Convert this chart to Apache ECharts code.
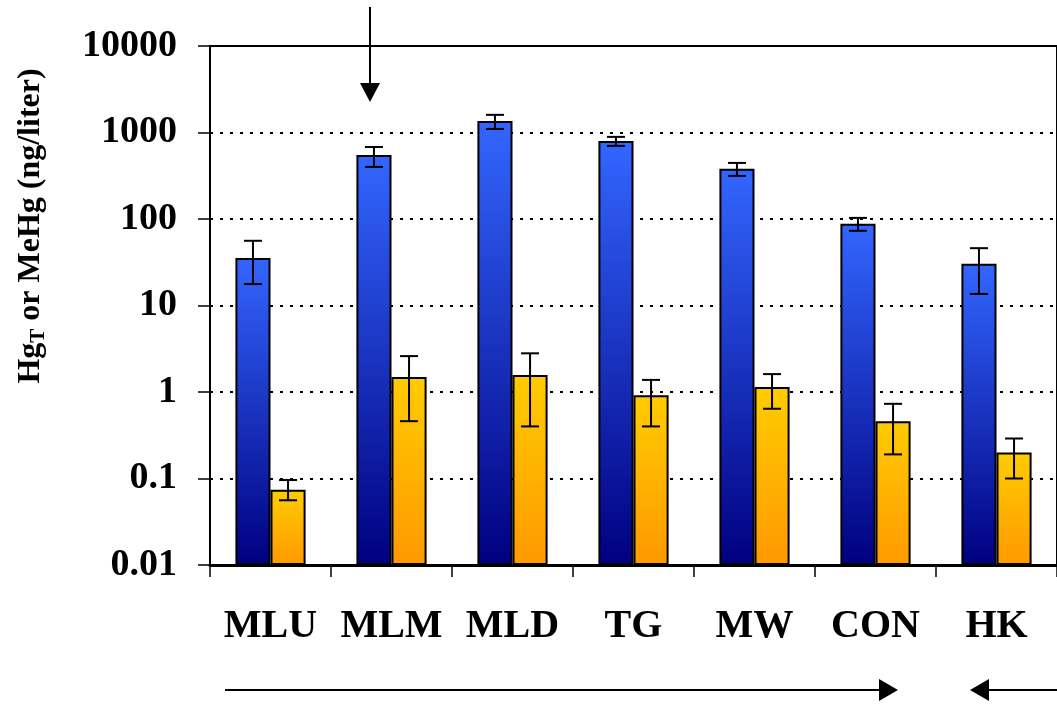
<!DOCTYPE html>
<html>
<head>
<meta charset="utf-8">
<script src="https://cdn.jsdelivr.net/npm/echarts@6/dist/echarts.min.js"></script>
<style>html,body{margin:0;padding:0;background:#fff;}#c{width:1057px;height:705px;}</style>
</head>
<body>
<div id="c"></div>
<script>
var categories = ['MLU', 'MLM', 'MLD', 'TG', 'MW', 'CON', 'HK'];
var hgT      = [35.5, 550, 1360, 800, 380, 88, 30.3];
var hgTLow   = [17.7, 400, 1100, 700, 315, 73, 13.6];
var hgTHigh  = [56, 680, 1600, 890, 445, 103, 46];
var meHg     = [0.074, 1.49, 1.57, 0.92, 1.14, 0.46, 0.20];
var meHgLow  = [0.056, 0.46, 0.40, 0.40, 0.64, 0.19, 0.10];
var meHgHigh = [0.096, 2.6, 2.8, 1.38, 1.61, 0.73, 0.29];
var yTickLabels = ['0.01', '0.1', '1', '10', '100', '1000', '10000'];

var FONT = '"Liberation Serif", "Times New Roman", serif';
var CAT_GAP = 0.42;

var chart = echarts.init(document.getElementById('c'), null, {renderer: 'canvas'});

function errSeries(low, high, sign) {
  return {
    type: 'custom',
    z: 10,
    silent: true,
    encode: {x: 0, y: [1, 2]},
    data: categories.map(function (c, i) { return [i, low[i], high[i]]; }),
    renderItem: function (params, api) {
      var i = api.value(0);
      var lo = api.coord([i, api.value(1)]);
      var hi = api.coord([i, api.value(2)]);
      var band = api.size([1, 1])[0];
      var barW = band * (1 - CAT_GAP) / 2;
      var cx = lo[0] + sign * barW / 2;
      var cap = 9;
      var st = {stroke: '#000', lineWidth: 2};
      return {
        type: 'group',
        children: [
          {type: 'line', shape: {x1: cx, y1: lo[1], x2: cx, y2: hi[1]}, style: st},
          {type: 'line', shape: {x1: cx - cap, y1: lo[1], x2: cx + cap, y2: lo[1]}, style: st},
          {type: 'line', shape: {x1: cx - cap, y1: hi[1], x2: cx + cap, y2: hi[1]}, style: st}
        ]
      };
    }
  };
}

function grad(top, bottom) {
  return new echarts.graphic.LinearGradient(0, 0, 0, 1, [
    {offset: 0, color: top}, {offset: 1, color: bottom}
  ]);
}

var option = {
  backgroundColor: '#fff',
  animation: false,
  grid: {left: 210, right: 0, top: 46, bottom: 140, show: true, borderColor: '#000', borderWidth: 2, containLabel: false},
  xAxis: {
    type: 'category',
    data: categories,
    axisLine: {lineStyle: {color: '#000', width: 3}},
    axisTick: {show: true, interval: 0, length: 12, lineStyle: {color: '#000', width: 1.5}},
    axisLabel: {interval: 0, color: '#000', fontFamily: FONT, fontWeight: 'bold', fontSize: 40, margin: 42},
    splitLine: {show: false}
  },
  yAxis: {
    type: 'log',
    logBase: 10,
    min: 0.01,
    max: 10000,
    startValue: 0.01,
    axisLine: {show: true, lineStyle: {color: '#000', width: 2}},
    axisTick: {show: true, inside: false, length: 12, lineStyle: {color: '#000', width: 1.5}},
    axisLabel: {
      color: '#000', fontFamily: FONT, fontWeight: 'bold', fontSize: 38, margin: 33,
      formatter: function (v) { return yTickLabels[Math.round(Math.log10(v)) + 2]; }
    },
    splitLine: {show: true, lineStyle: {color: '#000', width: 2, type: [3, 7]}},
    minorTick: {show: false}
  },
  series: [
    {
      name: 'HgT', type: 'bar', data: hgT, barGap: '0%', barCategoryGap: (CAT_GAP * 100) + '%',
      itemStyle: {color: grad('#3366FF', '#000080'), borderColor: '#000', borderWidth: 2}
    },
    {
      name: 'MeHg', type: 'bar', data: meHg, barGap: '0%', barCategoryGap: (CAT_GAP * 100) + '%',
      itemStyle: {color: grad('#FFCC00', '#FF9900'), borderColor: '#000', borderWidth: 2}
    },
    errSeries(hgTLow, hgTHigh, -1),
    errSeries(meHgLow, meHgHigh, 1)
  ],
  graphic: [
    {
      type: 'text', x: 31, y: 226, rotation: Math.PI / 2,
      style: {
        text: '{a|Hg}{s|T}{a| or MeHg (ng/liter)}',
        align: 'center', verticalAlign: 'middle',
        fill: '#000',
        rich: {
          a: {fontFamily: FONT, fontWeight: 'bold', fontSize: 32, lineHeight: 36, verticalAlign: 'middle', fill: '#000'},
          s: {fontFamily: FONT, fontWeight: 'bold', fontSize: 21, lineHeight: 14, verticalAlign: 'bottom', fill: '#000'}
        }
      }
    },
    {type: 'line', shape: {x1: 370, y1: 7, x2: 370, y2: 86}, style: {stroke: '#000', lineWidth: 2}},
    {type: 'polygon', shape: {points: [[360, 83], [380, 83], [370, 102]]}, style: {fill: '#000'}},
    {type: 'line', shape: {x1: 225, y1: 690, x2: 882, y2: 690}, style: {stroke: '#000', lineWidth: 2}},
    {type: 'polygon', shape: {points: [[879, 679], [879, 701], [898, 690]]}, style: {fill: '#000'}},
    {type: 'line', shape: {x1: 985, y1: 690, x2: 1057, y2: 690}, style: {stroke: '#000', lineWidth: 2}},
    {type: 'polygon', shape: {points: [[989, 679], [989, 701], [970, 690]]}, style: {fill: '#000'}}
  ]
};
chart.setOption(option);
</script>
</body>
</html>
